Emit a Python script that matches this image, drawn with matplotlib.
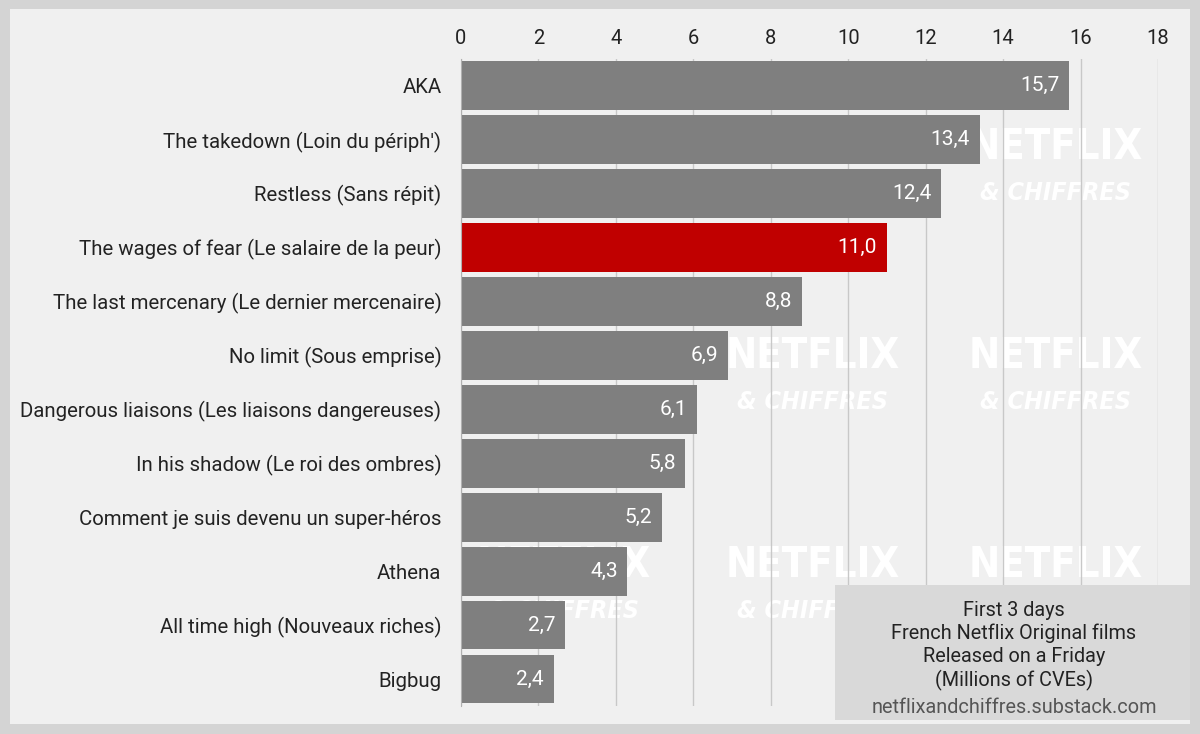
import matplotlib.pyplot as plt
from matplotlib.patches import Rectangle

plt.rcParams["font.family"] = "Roboto"

titles = ["AKA", "The takedown (Loin du périph')", "Restless (Sans répit)",
          "The wages of fear (Le salaire de la peur)",
          "The last mercenary (Le dernier mercenaire)", "No limit (Sous emprise)",
          "Dangerous liaisons (Les liaisons dangereuses)",
          "In his shadow (Le roi des ombres)",
          "Comment je suis devenu un super-héros", "Athena",
          "All time high (Nouveaux riches)", "Bigbug"]
views = [15.7, 13.4, 12.4, 11.0, 8.8, 6.9, 6.1, 5.8, 5.2, 4.3, 2.7, 2.4]
highlight = "The wages of fear (Le salaire de la peur)"
xticks = [0, 2, 4, 6, 8, 10, 12, 14, 16, 18]

fig = plt.figure(figsize=(12, 7.34), dpi=100)
fig.patch.set_facecolor("#d4d4d4")
fig.patches.append(Rectangle((0.008, 0.013), 0.984, 0.975, transform=fig.transFigure,
                             facecolor="#f0f0f0", edgecolor="none", zorder=-2))
ax = fig.add_axes([0.384, 0.038, 0.581, 0.882])
ax.set_facecolor("none")
ax.set_zorder(2)

ypos = list(range(len(titles)))
colors = ["#c00000" if t == highlight else "#7f7f7f" for t in titles]
ax.barh(ypos, views, height=0.9, color=colors, zorder=2)
for y, v in zip(ypos, views):
    ax.text(v - 0.25, y, f"{v:.1f}".replace(".", ","), ha="right", va="center",
            color="white", fontsize=15, zorder=3)

ax.set_ylim(len(titles) - 0.5, -0.5)
ax.set_xlim(0, 18)
ax.set_yticks(ypos)
ax.set_yticklabels(titles, fontsize=14.7)
ax.set_xticks(xticks)
ax.set_xticklabels([str(x) for x in xticks], fontsize=14.5)
ax.xaxis.tick_top()
ax.tick_params(axis="both", length=0, pad=14, colors="#222222")
ax.tick_params(axis="x", pad=8)
ax.grid(axis="x", color="#c8c8c8", linewidth=1, zorder=0)
ax.set_axisbelow(True)
for s in ["top", "right", "bottom"]:
    ax.spines[s].set_visible(False)
ax.spines["left"].set_color("#b0b0b0")

# watermarks
for (wx, wy) in [(0.88, 0.80), (0.677, 0.515), (0.88, 0.515), (0.47, 0.23), (0.677, 0.23), (0.88, 0.23)]:
    fig.text(wx, wy, "NETFLIX", color="white", fontsize=30, fontweight="bold",
             family="DejaVu Sans", fontstretch="condensed", ha="center", va="center", zorder=1)
    fig.text(wx, wy - 0.063, "& CHIFFRES", color="white", fontsize=18, fontweight="bold",
             family="DejaVu Sans", fontstretch="condensed", style="italic",
             ha="center", va="center", zorder=1)

fig.patches.append(Rectangle((0.696, 0.019), 0.296, 0.184, transform=fig.transFigure,
                             facecolor="#d9d9d9", edgecolor="none", zorder=5))
fig.text(0.845, 0.12, "First 3 days\nFrench Netflix Original films\nReleased on a Friday\n(Millions of CVEs)",
         ha="center", va="center", fontsize=14.3, color="#222222", linespacing=1.25, zorder=6)
fig.text(0.845, 0.036, "netflixandchiffres.substack.com", ha="center", va="center",
         fontsize=14.3, color="#555555", zorder=6)

fig.savefig("out.png", facecolor=fig.get_facecolor())
